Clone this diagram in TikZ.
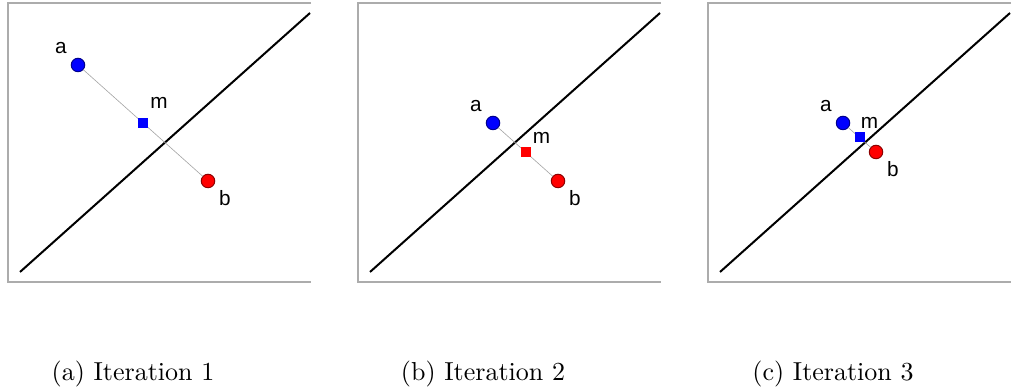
\documentclass[tikz,border=0pt]{standalone}
\usepackage{fontspec}
\newfontfamily\labelfont{Liberation Sans}
\usetikzlibrary{positioning, calc}

\begin{document}
\begin{tikzpicture}[x=0.4pt, y=-0.4pt,
  pta/.style={circle, draw=blue!55!black, fill=blue, minimum size=5.4pt, inner sep=0pt},
  ptb/.style={circle, draw=red!55!black, fill=red, minimum size=5.4pt, inner sep=0pt},
  midpt/.style={rectangle, fill=#1, minimum size=4pt, inner sep=0pt},
  lbl/.style={font=\labelfont\fontsize{8.3}{10}\selectfont, inner sep=0pt},
  subcap/.style={font=\fontsize{10.4}{12}\selectfont, inner sep=0pt},
  frame/.style={draw=gray!65, line width=0.45pt},
  sepline/.style={black, line width=0.8pt},
  link/.style={gray!70, line width=0.25pt}]

\useasboundingbox (0,0) rectangle (1019,390);

\foreach \i/\dx/\ax/\ay/\bx/\by/\mc/\mlx/\mly/\sub in {
  1/0/78/65/208/181/blue/16/-20/a,
  2/350/143/123/208/181/red/16/-14/b,
  3/700/143/123/176/152/blue/10/-15/c}{
\begin{scope}[shift={(\dx,0)}]
  % Frame (open on the right)
  \draw[frame] (311,3) -- (8,3) -- (8,282) -- (311,282);

  % Separating line
  \coordinate (s\i) at (20,272);
  \coordinate (e\i) at (310,13);
  \draw[sepline] (s\i) -- (e\i);

  % Define nodes
  \node[pta] (a\i) at (\ax,\ay) {};
  \node[ptb] (b\i) at (\bx,\by) {};
  \draw[link] (a\i) -- (b\i);
  \node[midpt=\mc] (m\i) at ($(a\i)!0.5!(b\i)$) {};

  % Labels
  \node[lbl] (la\i) at ($(a\i)+(-17,-17)$) {a};
  \node[lbl] (lm\i) at ($(m\i)+(\mlx,\mly)$) {m};
  \node[lbl] (lb\i) at ($(b\i)+(17,17)$) {b};

  % Caption
  \node[subcap] (cap\i) at (133,374) {(\sub) Iteration \i};
\end{scope}
}

\end{tikzpicture}
\end{document}
